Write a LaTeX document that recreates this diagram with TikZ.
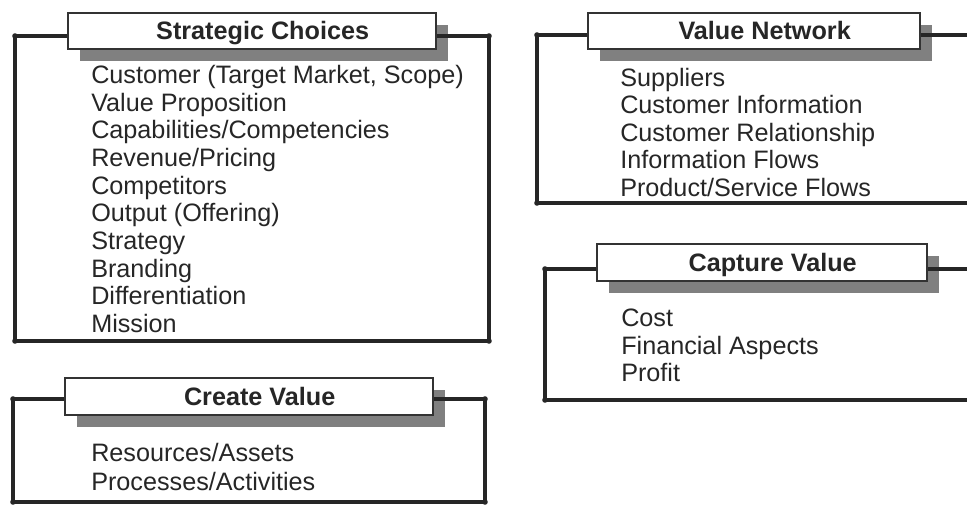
\documentclass[tikz,border=0pt]{standalone}
\usepackage{fontspec}
\setmainfont{Liberation Sans}
\usetikzlibrary{shadows}
\newcommand{\boxfont}{\fontsize{18.9}{20}\selectfont}

\begin{document}
\begin{tikzpicture}
  [x=0.75pt,y=-0.75pt,
   tab/.style={draw=black!80,line width=1.5pt,fill=white,minimum height=27.4pt,inner sep=0pt,
     font=\bfseries\boxfont,text=black!85,text height=13.5pt,text depth=0pt,
     drop shadow={shadow xshift=9pt,shadow yshift=-9pt,fill=black!50,opacity=1}},
   item/.style={anchor=base west,inner sep=0pt,font=\boxfont,text=black!85},
   frame/.style={draw=black!85,line width=2.6pt,line join=round}]
  \useasboundingbox (0,0) rectangle (967,506);
  \clip (0,0) rectangle (967,506);

  % frame corners
  \coordinate (sc-nw) at (15,36);   \coordinate (sc-se) at (489,341);
  \coordinate (vn-nw) at (537,35);  \coordinate (vn-se) at (970,203);
  \coordinate (cv-nw) at (13,399);  \coordinate (cv-se) at (485,502);
  \coordinate (cp-nw) at (545,269); \coordinate (cp-se) at (970,400);

  % title tabs
  \node[tab,minimum width=276pt] (sc) at (252,31)    {\hspace*{16pt}Strategic Choices};
  \node[tab,minimum width=249pt] (vn) at (754,31)    {\hspace*{16pt}Value Network};
  \node[tab,minimum width=276pt] (cv) at (249,396.5) {\hspace*{16pt}Create Value};
  \node[tab,minimum width=248pt] (cp) at (762,262.5) {\hspace*{16pt}Capture Value};

  % frames
  \foreach \b in {sc,vn,cv,cp} {
    \draw[frame] (\b.west |- \b-nw) -- (\b-nw) -- (\b-nw |- \b-se) -- (\b-se)
      -- (\b-se |- \b-nw) -- (\b.east |- \b-nw);
    \fill[black!85] (\b-nw) circle (2.8) (\b-se) circle (2.8)
      (\b-nw |- \b-se) circle (2.8) (\b-se |- \b-nw) circle (2.8);
  }

  % lists
  \foreach \t [count=\i] in {{Customer (Target Market, Scope)},Value Proposition,
      Capabilities/Competencies,Revenue/Pricing,Competitors,Output (Offering),
      Strategy,Branding,Differentiation,Mission}
    \node[item] (sc-\i) at (91,83.5+27.67*\i-27.67) {\t};
  \foreach \t [count=\i] in {Suppliers,Customer Information,Customer Relationship,
      Information Flows,Product/Service Flows}
    \node[item] (vn-\i) at (620,86.5+27.5*\i-27.5) {\t};
  \foreach \t [count=\i] in {Resources/Assets,Processes/Activities}
    \node[item] (cv-\i) at (91,461.5+28.5*\i-28.5) {\t};
  \foreach \t [count=\i] in {Cost,Financial Aspects,Profit}
    \node[item] (cp-\i) at (621,326.5+27.5*\i-27.5) {\t};
\end{tikzpicture}
\end{document}
